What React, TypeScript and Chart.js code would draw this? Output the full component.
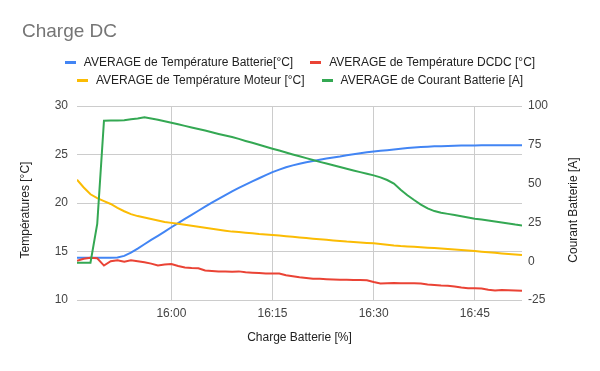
import React, { useEffect, useRef } from "react";
import { Chart, registerables } from "chart.js";

Chart.register(...registerables);

const FONT = "'Liberation Sans', Arial, Helvetica, sans-serif";

const TITLE = "Charge DC";
const X_TITLE = "Charge Batterie [%]";
const Y_LEFT_TITLE = "Températures [°C]";
const Y_RIGHT_TITLE = "Courant Batterie [A]";

// minutes relative to 16:00
const minutes = [
  -14, -13, -12, -11, -10, -9, -8, -7, -6, -5, -4, -3, -2, -1, 0,
  1, 2, 3, 4, 5, 6, 7, 8, 9, 10,
  11, 12, 13, 14, 15, 16, 17, 18, 19, 20,
  21, 22, 23, 24, 25, 26, 27, 28, 29, 30,
  31, 32, 33, 34, 35, 36, 37, 38, 39, 40,
  41, 42, 43, 44, 45, 46, 47, 48, 49, 50,
  51, 52,
];

const tempBatterie = [
  14.35, 14.35, 14.35, 14.35, 14.35, 14.35, 14.38, 14.55, 14.88, 15.3, 15.75, 16.2, 16.62, 17.05, 17.5,
  17.93, 18.36, 18.78, 19.2, 19.62, 20.03, 20.43, 20.82, 21.2, 21.55,
  21.9, 22.22, 22.55, 22.88, 23.18, 23.44, 23.68, 23.88, 24.05, 24.2,
  24.33, 24.45, 24.58, 24.7, 24.8, 24.92, 25.02, 25.12, 25.22, 25.3,
  25.38, 25.45, 25.52, 25.6, 25.66, 25.72, 25.77, 25.8, 25.84, 25.86,
  25.88, 25.9, 25.92, 25.93, 25.94, 25.95, 25.95, 25.95, 25.95, 25.95,
  25.95, 25.95,
];

const tempDCDC = [
  14.05, 14.25, 14.35, 14.3, 13.55, 14.0, 14.1, 13.95, 14.1, 14.0, 13.9, 13.75, 13.55, 13.65, 13.7,
  13.5, 13.35, 13.3, 13.28, 13.05, 13.0, 12.95, 12.93, 12.92, 12.95,
  12.85, 12.82, 12.78, 12.72, 12.72, 12.74, 12.55, 12.45, 12.35, 12.28,
  12.2, 12.18, 12.15, 12.12, 12.1, 12.08, 12.06, 12.05, 12.03, 11.85,
  11.7, 11.73, 11.75, 11.72, 11.73, 11.72, 11.7, 11.6, 11.55, 11.5,
  11.48, 11.4, 11.28, 11.22, 11.2, 11.18, 11.05, 10.97, 11.03, 11.0,
  10.98, 10.96,
];

const tempMoteur = [
  22.4, 21.6, 20.9, 20.5, 20.2, 19.9, 19.5, 19.15, 18.85, 18.65, 18.5, 18.35, 18.2, 18.05, 17.95,
  17.85, 17.75, 17.65, 17.55, 17.45, 17.35, 17.25, 17.15, 17.05, 17.0,
  16.93, 16.87, 16.8, 16.75, 16.7, 16.65, 16.58, 16.52, 16.45, 16.38,
  16.32, 16.26, 16.2, 16.14, 16.08, 16.02, 15.98, 15.93, 15.88, 15.84,
  15.78, 15.7, 15.62, 15.56, 15.52, 15.49, 15.44, 15.39, 15.35, 15.3,
  15.25, 15.2, 15.15, 15.1, 15.05, 14.98, 14.92, 14.86, 14.8, 14.75,
  14.7, 14.65,
];

const courantBatterie = [
  -1, -1, -1, 24, 90.5, 90.6, 90.6, 90.8, 91.5, 92.0, 92.7, 92.0, 91.2, 90.2, 89.2,
  88.2, 87.2, 86.2, 85.2, 84.2, 83.1, 82.0, 81.0, 80.0, 78.8,
  77.5, 76.3, 75.0, 73.8, 72.5, 71.3, 70.0, 68.8, 67.6, 66.4,
  65.2, 64.0, 62.9, 61.8, 60.7, 59.6, 58.5, 57.4, 56.4, 55.3,
  54.0, 52.3, 50.0, 46.0, 42.5, 39.4, 36.5, 34.0, 32.3, 31.2,
  30.5, 29.8, 29.0, 28.2, 27.4, 26.8, 26.2, 25.6, 25.0, 24.3,
  23.6, 23.0,
];

const seriesLabels = [
  "AVERAGE de Température Batterie[°C]",
  "AVERAGE de Température DCDC [°C]",
  "AVERAGE de Température Moteur [°C]",
  "AVERAGE de Courant Batterie [A]",
];
const seriesColors = ["#4285F4", "#EA4335", "#FBBC04", "#34A853"];
const legendRows = [
  [0, 1],
  [2, 3],
];

const xTickMinutes = [0, 15, 30, 45];
const xTickLabels = ["16:00", "16:15", "16:30", "16:45"];

const overlayPlugin = {
  id: "overlay",
  afterDraw(chart: any) {
    const ctx = chart.ctx as CanvasRenderingContext2D;
    ctx.save();
    // Title
    ctx.font = `19px ${FONT}`;
    ctx.fillStyle = "#757575";
    ctx.textAlign = "left";
    ctx.textBaseline = "alphabetic";
    ctx.fillText(TITLE, 22, 36.5);

    // Legend
    ctx.font = `12px ${FONT}`;
    ctx.textBaseline = "middle";
    const boxW = 11;
    const textGap = 8;
    const itemGap = 17;
    legendRows.forEach((row, r) => {
      const y = 62.5 + r * 18;
      const widths = row.map((i) => boxW + textGap + ctx.measureText(seriesLabels[i]).width);
      const total = widths.reduce((a, b) => a + b, 0) + itemGap * (row.length - 1);
      let x = chart.width / 2 - total / 2;
      row.forEach((i, k) => {
        ctx.fillStyle = seriesColors[i];
        ctx.fillRect(Math.round(x), Math.round(y) - 2, boxW, 3);
        ctx.fillStyle = "#222222";
        ctx.fillText(seriesLabels[i], x + boxW + textGap, y);
        x += widths[k] + itemGap;
      });
    });

    // Vertical axis titles
    ctx.fillStyle = "#222222";
    ctx.textAlign = "center";
    ctx.textBaseline = "middle";
    ctx.save();
    ctx.translate(26, 210);
    ctx.rotate(-Math.PI / 2);
    ctx.fillText(Y_LEFT_TITLE, 0, 0);
    ctx.restore();
    ctx.save();
    ctx.translate(574, 210);
    ctx.rotate(-Math.PI / 2);
    ctx.fillText(Y_RIGHT_TITLE, 0, 0);
    ctx.restore();

    ctx.restore();
  },
};

export default function App() {
  const canvasRef = useRef<HTMLCanvasElement | null>(null);

  useEffect(() => {
    if (!canvasRef.current) return;
    const series = [tempBatterie, tempDCDC, tempMoteur, courantBatterie];
    const axes = ["y", "y", "y", "y1"];
    const orders = [4, 3, 2, 1];
    const tickFont = { size: 12, family: FONT };

    const chart = new Chart(canvasRef.current, {
      type: "line",
      data: {
        datasets: series.map((values, i) => ({
          label: seriesLabels[i],
          data: values.map((v, j) => ({ x: minutes[j], y: v })),
          borderColor: seriesColors[i],
          backgroundColor: seriesColors[i],
          borderWidth: 2,
          pointRadius: 0,
          tension: 0,
          fill: false,
          yAxisID: axes[i],
          order: orders[i],
        })),
      },
      options: {
        responsive: false,
        maintainAspectRatio: false,
        animation: false,
        layout: { padding: { top: 106, left: 0, right: 0, bottom: 0 } },
        plugins: {
          legend: { display: false },
          title: { display: false },
          tooltip: { enabled: false },
        },
        scales: {
          x: {
            type: "linear",
            min: -14,
            max: 52,
            afterBuildTicks: (s: any) => {
              s.ticks = xTickMinutes.map((value) => ({ value }));
            },
            afterFit: (s: any) => {
              s.height = 71;
            },
            ticks: {
              callback: (_v: any, index: number) => xTickLabels[index],
              color: "#444444",
              font: tickFont,
              padding: 6,
              maxRotation: 0,
              autoSkip: false,
            },
            grid: { color: "#cccccc", drawTicks: false, lineWidth: 1 },
            border: { display: false },
            title: {
              display: true,
              text: X_TITLE,
              color: "#222222",
              font: tickFont,
              padding: { top: 0, bottom: 26 },
            },
          },
          y: {
            type: "linear",
            position: "left",
            min: 10,
            max: 30,
            afterFit: (s: any) => {
              s.width = 77;
            },
            ticks: { stepSize: 5, padding: 9, color: "#444444", font: tickFont },
            grid: { color: "#cccccc", drawTicks: false, lineWidth: 1 },
            border: { display: false },
          },
          y1: {
            type: "linear",
            position: "right",
            min: -25,
            max: 100,
            afterFit: (s: any) => {
              s.width = 78;
            },
            ticks: { stepSize: 25, padding: 6, color: "#444444", font: tickFont },
            grid: { drawOnChartArea: false, drawTicks: false },
            border: { display: false },
          },
        },
      } as any,
      plugins: [overlayPlugin],
    });

    return () => chart.destroy();
  }, []);

  return (
    <div
      style={{
        position: "absolute",
        left: 0,
        top: 0,
        width: 600,
        height: 371,
        background: "#ffffff",
      }}
    >
      <canvas ref={canvasRef} width={600} height={371} style={{ display: "block" }} />
    </div>
  );
}
